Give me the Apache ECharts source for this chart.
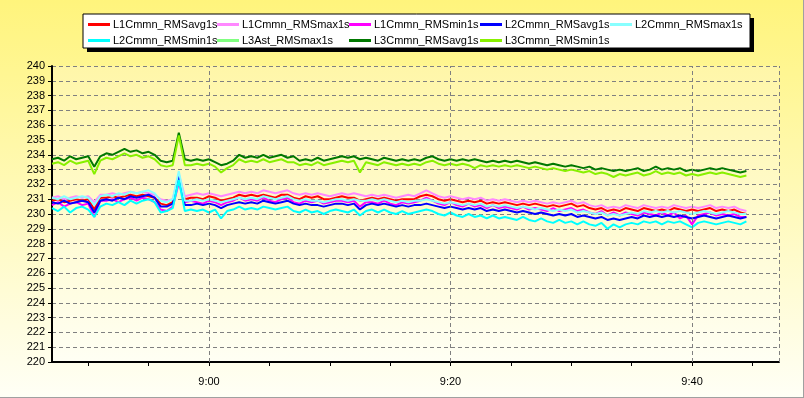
<!DOCTYPE html>
<html><head><meta charset="utf-8">
<script src="https://cdn.jsdelivr.net/npm/echarts@6/dist/echarts.min.js"></script>
<style>html,body{margin:0;padding:0;background:#fff}#c{width:804px;height:398px}</style>
</head><body><div id="c"></div><script>
// Time axis: minutes since midnight. Samples every 0.5 min from 8:47:00.
const startMinute = 527;
const stepMinute = 0.5;
const yTicks = [220, 240];
const xLabelMinutes = [540, 560, 580];
const xTickMinutes = [530, 535, 540, 545, 550, 555, 560, 565, 570, 575, 580, 585];

const seriesNames = ['L1Cmmn_RMSavg1s','L1Cmmn_RMSmax1s','L1Cmmn_RMSmin1s','L2Cmmn_RMSavg1s','L2Cmmn_RMSmax1s','L2Cmmn_RMSmin1s','L3Ast_RMSmax1s','L3Cmmn_RMSavg1s','L3Cmmn_RMSmin1s'];

const l1Avg = [230.9,231.0,230.8,230.9,231.0,230.9,231.0,230.3,231.1,231.1,
231.2,231.1,231.2,231.3,231.2,231.3,231.2,231.1,230.7,230.6,
230.8,232.4,231.0,231.1,231.1,231.0,231.2,231.1,230.9,231.0,
231.1,231.3,231.2,231.3,231.2,231.3,231.2,231.1,231.3,231.3,
231.1,231.0,231.2,231.1,231.2,231.0,231.0,231.1,231.2,231.1,
231.1,230.9,231.0,231.1,231.0,231.1,231.0,230.9,231.0,231.0,
231.0,231.2,231.3,231.2,231.0,230.9,231.0,230.9,230.8,230.9,
230.8,230.9,230.7,230.8,230.7,230.8,230.7,230.6,230.7,230.6,
230.7,230.6,230.5,230.6,230.5,230.6,230.7,230.5,230.6,230.4,
230.3,230.4,230.2,230.3,230.2,230.4,230.3,230.2,230.4,230.3,
230.2,230.3,230.2,230.4,230.3,230.2,230.3,230.2,230.3,230.4,
230.2,230.3,230.2,230.3,230.1,230.0];

const l1Max = [231.1,231.2,231.0,231.1,231.2,231.1,231.2,230.8,231.3,231.3,
231.4,231.3,231.4,231.5,231.4,231.5,231.4,231.3,231.0,230.9,
231.0,232.7,231.2,231.3,231.4,231.3,231.4,231.3,231.2,231.3,
231.4,231.5,231.4,231.5,231.4,231.6,231.5,231.4,231.5,231.6,
231.4,231.3,231.4,231.3,231.4,231.3,231.2,231.3,231.4,231.3,
231.4,231.3,231.2,231.3,231.2,231.3,231.2,231.1,231.2,231.3,
231.2,231.4,231.6,231.4,231.2,231.1,231.2,231.1,231.0,231.1,
231.0,231.1,230.9,231.0,230.9,231.0,230.9,230.8,230.9,230.8,
230.9,230.8,230.7,230.8,230.7,230.8,230.9,230.7,230.8,230.6,
230.5,230.6,230.4,230.5,230.4,230.6,230.5,230.4,230.6,230.5,
230.4,230.5,230.4,230.6,230.5,230.4,230.5,230.4,230.5,230.6,
230.4,230.5,230.4,230.5,230.3,230.2];

const l1Min = [230.6,230.8,230.5,230.7,230.8,230.6,230.7,229.8,230.9,230.9,
231.0,230.8,231.0,231.1,230.9,231.1,231.0,230.8,230.3,230.2,
230.5,232.1,230.8,230.9,230.8,230.7,230.9,230.8,230.6,230.8,
230.9,231.1,230.9,231.0,230.9,231.1,230.9,230.8,231.0,231.1,
230.8,230.7,230.9,230.8,230.9,230.7,230.8,230.9,230.9,230.8,
230.9,230.5,230.8,230.8,230.7,230.9,230.7,230.6,230.8,230.7,
230.8,230.9,231.1,230.9,230.7,230.6,230.8,230.6,230.5,230.7,
230.5,230.6,230.4,230.6,230.4,230.5,230.4,230.3,230.5,230.3,
230.4,230.3,230.2,230.4,230.2,230.3,230.4,230.2,230.3,230.1,
230.0,230.2,229.9,230.1,229.9,230.1,230.0,229.9,230.1,230.0,
229.9,230.1,229.9,230.1,229.7,229.9,229.3,229.9,230.0,230.1,
229.9,230.0,229.9,230.0,229.8,229.8];

const l2Avg = [230.8,230.7,230.9,230.7,230.8,230.9,230.8,230.1,230.9,231.0,
230.9,231.1,231.0,231.2,231.1,231.2,231.3,231.1,230.5,230.5,
230.7,232.6,230.6,230.6,230.7,230.6,230.7,230.6,230.4,230.6,
230.7,230.8,230.7,230.8,230.7,230.9,230.8,230.7,230.8,230.9,
230.7,230.6,230.7,230.6,230.6,230.5,230.6,230.7,230.7,230.6,
230.7,230.3,230.6,230.7,230.6,230.7,230.6,230.5,230.6,230.5,
230.6,230.6,230.7,230.6,230.5,230.4,230.5,230.4,230.3,230.4,
230.3,230.4,230.2,230.3,230.2,230.3,230.2,230.1,230.2,230.1,
230.0,230.1,230.0,229.9,230.0,229.9,230.0,229.8,229.9,229.8,
229.7,229.8,229.6,229.7,229.6,229.7,229.8,229.7,229.9,229.8,
229.9,229.8,229.9,229.8,229.9,229.8,229.7,229.8,229.9,229.8,
229.7,229.8,229.9,229.8,229.7,229.8];

const l2Max = [231.1,231.0,231.2,231.0,231.1,231.2,231.1,230.6,231.2,231.3,
231.2,231.4,231.3,231.5,231.4,231.5,231.6,231.4,230.9,230.8,
231.0,232.9,230.9,230.9,231.0,230.9,231.0,230.9,230.8,230.9,
231.0,231.1,231.0,231.1,231.0,231.2,231.1,231.0,231.1,231.2,
231.0,230.9,231.0,230.9,230.9,230.8,230.9,231.0,231.0,230.9,
231.0,230.9,230.9,231.0,230.9,231.0,230.9,230.8,230.9,230.8,
230.9,230.9,231.0,230.9,230.8,230.7,230.8,230.7,230.6,230.7,
230.6,230.7,230.5,230.6,230.5,230.6,230.5,230.4,230.5,230.4,
230.3,230.4,230.3,230.2,230.3,230.2,230.3,230.1,230.2,230.1,
230.0,230.1,229.9,230.0,229.9,230.0,230.1,230.0,230.2,230.1,
230.2,230.1,230.2,230.1,230.2,230.1,230.0,230.1,230.2,230.1,
230.0,230.1,230.2,230.1,230.0,230.0];

const l2Min = [230.4,230.2,230.5,230.1,230.4,230.5,230.3,229.8,230.5,230.7,
230.6,230.8,230.6,230.9,230.7,230.9,231.0,230.8,230.1,230.2,
230.4,232.3,230.2,230.3,230.2,230.3,230.1,230.3,229.7,230.2,
230.3,230.5,230.3,230.4,230.3,230.5,230.4,230.3,230.4,230.5,
230.2,230.1,230.3,230.1,230.2,230.0,230.2,230.3,230.2,230.1,
230.3,229.9,230.2,230.3,230.1,230.3,230.1,230.0,230.2,230.0,
230.1,230.2,230.3,230.2,230.0,229.9,230.1,229.9,229.8,230.0,
229.8,229.9,229.7,229.9,229.7,229.8,229.7,229.6,229.8,229.6,
229.5,229.7,229.5,229.4,229.6,229.4,229.5,229.3,229.5,229.3,
229.2,229.4,229.0,229.3,229.1,229.3,229.4,229.3,229.5,229.4,
229.5,229.3,229.5,229.4,229.5,229.3,229.1,229.4,229.5,229.4,
229.3,229.4,229.5,229.4,229.3,229.5];

// L3Ast_RMSmax1s is not visible in the reference (hidden), so it carries no points.
const l3AstMax = [];

const l3Avg = [233.7,233.8,233.6,233.9,233.7,233.8,233.9,233.2,233.9,234.1,
234.0,234.2,234.4,234.2,234.3,234.1,234.2,234.0,233.6,233.5,
233.6,235.5,233.7,233.6,233.7,233.6,233.7,233.5,233.3,233.4,
233.6,234.0,233.8,233.9,233.8,234.0,233.8,233.9,234.0,233.8,
233.9,233.6,233.7,233.6,233.8,233.6,233.7,233.8,233.9,233.8,
233.9,233.7,233.8,233.7,233.6,233.8,233.7,233.6,233.7,233.6,
233.7,233.6,233.8,233.9,233.7,233.6,233.7,233.6,233.7,233.6,
233.7,233.6,233.5,233.6,233.5,233.6,233.5,233.6,233.5,233.4,
233.5,233.4,233.3,233.4,233.3,233.2,233.3,233.2,233.1,233.2,
233.0,233.1,233.0,232.9,233.0,232.9,233.0,233.1,232.9,233.0,
233.2,233.0,233.1,233.0,233.1,232.9,233.0,232.9,233.0,233.1,
233.0,233.1,233.0,232.9,232.8,232.9];

const l3Min = [233.4,233.5,233.3,233.6,233.4,233.5,233.6,232.7,233.6,233.8,
233.7,233.9,234.1,233.9,234.0,233.8,233.9,233.7,233.3,233.2,
233.3,235.3,233.3,233.3,233.4,233.3,233.4,233.2,232.8,233.1,
233.3,233.7,233.5,233.6,233.5,233.7,233.5,233.6,233.7,233.5,
233.5,233.3,233.4,233.3,233.5,233.3,233.4,233.5,233.6,233.5,
233.6,232.8,233.5,233.4,233.3,233.5,233.4,233.3,233.4,233.3,
233.4,233.3,233.5,233.6,233.4,233.3,233.4,233.3,233.4,233.3,
233.1,233.3,233.2,233.3,233.2,233.3,233.2,233.3,233.2,233.1,
233.2,233.1,233.0,233.1,233.0,232.9,233.0,232.9,232.8,232.9,
232.7,232.8,232.7,232.5,232.7,232.6,232.7,232.8,232.6,232.7,
232.9,232.7,232.8,232.7,232.8,232.6,232.7,232.6,232.7,232.8,
232.7,232.8,232.7,232.6,232.5,232.6];

const seriesValues = [l1Avg, l1Max, l1Min, l2Avg, l2Max, l2Min, l3AstMax, l3Avg, l3Min];
const seriesColors = ['#FF0000','#FF88FF','#FF00FF','#0000FF','#88FFFF','#00FFFF','#80FF80','#007800','#88F000'];

function pairs(vals) {
  return vals.map((v, i) => [startMinute + i * stepMinute, v]);
}
function fmtTime(m) {
  const h = Math.floor(m / 60), mm = Math.round(m % 60);
  return h + ':' + (mm < 10 ? '0' : '') + mm;
}

const FONT = '"Liberation Sans", Arial, sans-serif';
const legendCols = [
  {left: 88, names: [0, 5]},
  {left: 217, names: [1, 6]},
  {left: 349, names: [2, 7]},
  {left: 480, names: [3, 8]},
  {left: 610, names: [4]}
];

const series = seriesNames.map((n, k) => ({
  name: n, type: 'line', data: pairs(seriesValues[k]),
  showSymbol: false, symbol: 'none', animation: false,
  color: seriesColors[k],
  lineStyle: {width: 2, color: seriesColors[k]},
  z: 3
}));
series.unshift({
  name: 'grid-v', type: 'line', data: [], z: 1, silent: true,
  markLine: {
    silent: true, symbol: ['none', 'none'], label: {show: false},
    lineStyle: {type: [4, 3], color: '#808080', width: 1},
    data: [{xAxis: 540}, {xAxis: 560}, {xAxis: 580}, {xAxis: 587.2}],
    animation: false
  }
});

const chart = echarts.init(document.getElementById('c'), null, {renderer: 'canvas'});
chart.setOption({
  animation: false,
  backgroundColor: {type: 'linear', x: 0, y: 0, x2: 0, y2: 1,
    colorStops: [{offset: 0, color: '#FFF47C'}, {offset: 1, color: '#FFFFF6'}]},
  textStyle: {fontFamily: FONT},
  graphic: [
    {type: 'rect', shape: {x: 87, y: 18, width: 667, height: 34}, style: {fill: '#000'}, z: 0},
    {type: 'rect', shape: {x: 83, y: 14, width: 667, height: 34}, style: {fill: '#fff', stroke: '#000', lineWidth: 1}, z: 1},
    {type: 'line', shape: {x1: 803.5, y1: 0, x2: 803.5, y2: 398}, style: {stroke: '#A0A0A0', lineWidth: 1}},
    {type: 'line', shape: {x1: 0, y1: 397.5, x2: 804, y2: 397.5}, style: {stroke: '#A0A0A0', lineWidth: 1}}
  ],
  legend: legendCols.map(c => ({
    orient: 'vertical', left: c.left, top: 19, itemGap: 5, padding: 0,
    itemWidth: 22, itemHeight: 3, icon: 'rect',
    data: c.names.map(i => seriesNames[i]),
    textStyle: {fontSize: 11, color: '#000', fontFamily: FONT, padding: [0, 0, 0, -2]},
    selectedMode: false, z: 5
  })),
  grid: {left: 52, right: 25, top: 66, bottom: 36, show: true, borderWidth: 0,
    backgroundColor: {type: 'linear', x: 0, y: 0, x2: 0, y2: 1,
      colorStops: [{offset: 0, color: '#FFF6A8'}, {offset: 1, color: '#FFFFF4'}]}},
  xAxis: {
    type: 'value', min: startMinute, max: 587.2,
    axisLine: {show: true, lineStyle: {color: '#000', width: 2}},
    axisTick: {show: true, length: 4, lineStyle: {color: '#000'}, customValues: xTickMinutes},
    axisLabel: {color: '#000', fontSize: 11, margin: 14, customValues: xLabelMinutes, formatter: v => fmtTime(v)},
    splitLine: {show: false}
  },
  yAxis: {
    type: 'value', min: yTicks[0], max: yTicks[1], interval: 1,
    axisLine: {show: true, lineStyle: {color: '#000', width: 2}},
    axisTick: {show: true, length: 4, lineStyle: {color: '#000'}},
    axisLabel: {color: '#000', fontSize: 11, margin: 7},
    splitLine: {show: true, lineStyle: {type: [4, 3], color: '#808080', width: 1}}
  },
  series: series
});
</script></body></html>
